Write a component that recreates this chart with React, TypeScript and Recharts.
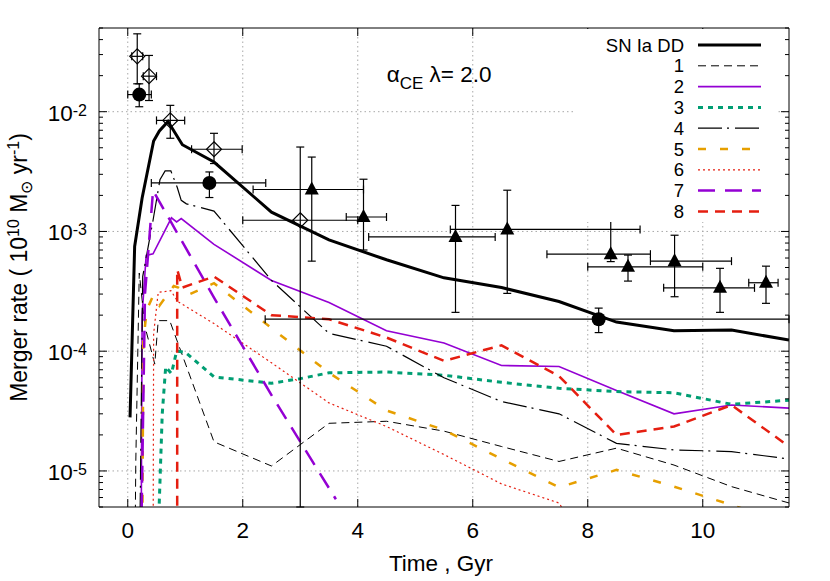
import React from 'react';
import {
  CartesianGrid,
  ComposedChart,
  ErrorBar,
  Legend,
  Line,
  Scatter,
  XAxis,
  YAxis,
} from 'recharts';

const W = 830;
const H = 581;
const FONT = '"Liberation Sans", Arial, Helvetica, sans-serif';

// axes
const X_DOMAIN = [-0.5, 11.5];
const X_TICKS = [0, 2, 4, 6, 8, 10];
const Y_DOMAIN = [5e-6, 5e-2];
const Y_MAJOR = [1e-5, 1e-4, 1e-3, 1e-2];
const Y_MINOR = [
  5e-6, 6e-6, 7e-6, 8e-6, 9e-6,
  2e-5, 3e-5, 4e-5, 5e-5, 6e-5, 7e-5, 8e-5, 9e-5,
  2e-4, 3e-4, 4e-4, 5e-4, 6e-4, 7e-4, 8e-4, 9e-4,
  2e-3, 3e-3, 4e-3, 5e-3, 6e-3, 7e-3, 8e-3, 9e-3,
  2e-2, 3e-2, 4e-2, 5e-2,
];
const Y_TICKS = [...Y_MINOR, ...Y_MAJOR].sort((a, b) => a - b);

// model curves (time in Gyr, rate in 1e10 Msun/yr); values below 5e-6 run off the axis
const T_DD = [0.04, 0.12, 0.25, 0.45, 0.55, 0.7, 0.95, 1.5, 2.5, 3.5, 4.5, 5.5, 6.5, 7.5, 8.5, 9.5, 10.5, 11.5];
const V_DD = [2.8e-5, 7.5e-4, 1.9e-3, 5.7e-3, 6.9e-3, 8.3e-3, 5.3e-3, 3.8e-3, 1.45e-3, 8.5e-4, 5.8e-4, 4.1e-4, 3.4e-4, 2.6e-4, 1.75e-4, 1.48e-4, 1.5e-4, 1.24e-4];

const T_1 = [0.12, 0.14, 0.2, 0.3, 0.47, 0.53, 0.73, 1.5, 2.5, 3.5, 4.5, 5.5, 6.5, 7.5, 8.5, 9.5, 10.5, 11.5];
const V_1 = [1e-6, 1.2e-5, 4.5e-4, 1.6e-4, 7.8e-5, 1.8e-4, 1.8e-4, 1.75e-5, 1.1e-5, 2.5e-5, 2.6e-5, 2.15e-5, 1.6e-5, 1.2e-5, 1.55e-5, 1.12e-5, 7.4e-6, 5.4e-6];

const T_2 = [0.23, 0.25, 0.32, 0.44, 0.76, 0.85, 0.93, 1.5, 2.5, 3.5, 4.5, 5.5, 6.5, 7.5, 8.5, 9.5, 10.5, 11.5];
const V_2 = [1e-6, 2e-4, 6.3e-4, 6.5e-4, 1.3e-3, 1.2e-3, 1.28e-3, 7.8e-4, 3.9e-4, 2.55e-4, 1.48e-4, 1.17e-4, 7.6e-5, 7.45e-5, 4.7e-5, 3.0e-5, 3.55e-5, 3.35e-5];

const T_3 = [0.53, 0.6, 0.66, 0.76, 0.85, 1.0, 1.5, 2.5, 3.0, 3.5, 4.5, 5.5, 6.5, 7.5, 8.5, 9.5, 10.5, 11.5];
const V_3 = [3e-6, 3e-5, 7.4e-5, 6.5e-5, 1.0e-4, 9.8e-5, 6.1e-5, 5.4e-5, 5.9e-5, 6.6e-5, 6.7e-5, 6.3e-5, 5.5e-5, 4.9e-5, 4.6e-5, 4.5e-5, 3.6e-5, 3.9e-5];

const T_4 = [0.2, 0.26, 0.44, 0.56, 0.65, 0.75, 0.86, 0.93, 1.02, 1.5, 2.5, 3.5, 4.5, 5.5, 6.5, 7.5, 8.5, 9.5, 10.5, 11.5];
const V_4 = [1e-6, 4.2e-4, 1.24e-3, 2.7e-3, 3.2e-3, 3.2e-3, 2.34e-3, 1.82e-3, 1.7e-3, 1.48e-3, 3.9e-4, 1.41e-4, 1.1e-4, 6.0e-5, 3.8e-5, 3.0e-5, 1.7e-5, 1.5e-5, 1.45e-5, 1.26e-5];

const T_5 = [0.25, 0.27, 0.33, 0.44, 0.55, 0.8, 0.88, 1.05, 1.5, 2.5, 3.5, 4.5, 5.5, 6.5, 7.5, 8.5, 9.5, 10.5, 11.5];
const V_5 = [1e-6, 1.2e-4, 2.2e-4, 2.9e-4, 2.4e-4, 3.5e-4, 3.4e-4, 2.95e-4, 3.7e-4, 1.56e-4, 6.6e-5, 3.2e-5, 2.2e-5, 1.26e-5, 7.3e-6, 1.02e-5, 7.4e-6, 5.2e-6, 3.6e-6];

const T_6 = [0.44, 0.45, 0.53, 0.75, 0.87, 1.5, 2.5, 3.5, 4.5, 5.5, 6.5, 7.5, 8.5];
const V_6 = [1e-6, 1.4e-4, 3.1e-4, 3.2e-4, 2.6e-4, 1.7e-4, 8.0e-5, 3.7e-5, 2.35e-5, 1.37e-5, 7.8e-6, 5.4e-6, 1e-6];

const T_7 = [0.22, 0.3, 0.44, 1.5, 2.5, 3.62];
const V_7 = [1e-6, 3e-4, 2.2e-3, 2.8e-4, 4.3e-5, 5.8e-6];

const T_8 = [0.86, 0.86, 0.95, 1.5, 2.5, 3.5, 4.5, 5.5, 6.5, 7.5, 8.5, 9.5, 10.5, 11.5];
const V_8 = [1e-6, 4.8e-4, 3.4e-4, 4.2e-4, 2.0e-4, 1.85e-4, 1.3e-4, 8.3e-5, 1.12e-4, 6.2e-5, 2.0e-5, 2.35e-5, 3.55e-5, 1.6e-5];

// observed rates with error ranges (lo/hi are the bar ends)
const DIA_T = [0.165, 0.37, 0.74, 1.5, 3.0];
const DIA_T_LO = [0.07, 0.27, 0.5, 1.11, 2.0];
const DIA_T_HI = [0.26, 0.5, 0.99, 1.99, 4.0];
const DIA_V = [2.9e-2, 1.98e-2, 8.46e-3, 4.86e-3, 1.24e-3];
const DIA_V_LO = [1.71e-2, 1.24e-2, 6.0e-3, 3.69e-3, 5e-6];
const DIA_V_HI = [4.47e-2, 2.95e-2, 1.13e-2, 6.6e-3, 5.07e-3];

const CIR_T = [0.2, 1.42, 8.19];
const CIR_T_LO = [0.0, 0.41, 2.39];
const CIR_T_HI = [0.41, 2.4, 11.5];
const CIR_V = [1.39e-2, 2.54e-3, 1.85e-4];
const CIR_V_LO = [1.1e-2, 1.92e-3, 1.43e-4];
const CIR_V_HI = [1.71e-2, 3.14e-3, 2.29e-4];

const TRI_T = [3.2, 4.1, 5.7, 6.6, 8.4, 8.7, 9.51, 10.3, 11.1];
const TRI_T_LO = [2.18, 3.8, 4.19, 5.61, 7.29, 8.0, 9.09, 9.32, 10.8];
const TRI_T_HI = [4.1, 4.5, 6.39, 8.91, 9.09, 10.0, 10.5, 10.9, 11.31];
const TRI_V = [2.24e-3, 1.32e-3, 9.0e-4, 1.04e-3, 6.46e-4, 5.07e-4, 5.65e-4, 3.38e-4, 3.73e-4];
const TRI_V_LO = [5.65e-4, 7.0e-4, 2.11e-4, 3.04e-4, 5.6e-4, 3.85e-4, 2.85e-4, 2.11e-4, 2.51e-4];
const TRI_V_HI = [4.18e-3, 2.73e-3, 1.65e-3, 2.21e-3, 1.51e-3, 6.35e-4, 9.3e-4, 4.92e-4, 5.13e-4];

const rows = (t: number[], v: number[]) => t.map((x, i) => ({ t: x, v: v[i] }));

const points = (
  t: number[], tLo: number[], tHi: number[],
  v: number[], vLo: number[], vHi: number[],
) =>
  t.map((x, i) => ({
    t: x,
    v: v[i],
    ex: [x - tLo[i], tHi[i] - x],
    ey: [v[i] - vLo[i], vHi[i] - v[i]],
  }));

type Series = { name: string; data: { t: number; v: number }[]; color: string; width: number; dash?: string };

const SERIES: Series[] = [
  { name: 'SN Ia DD', data: rows(T_DD, V_DD), color: '#000000', width: 3 },
  { name: '1', data: rows(T_1, V_1), color: '#000000', width: 1, dash: '8 5' },
  { name: '2', data: rows(T_2, V_2), color: '#9400d3', width: 1.6 },
  { name: '3', data: rows(T_3, V_3), color: '#009e73', width: 3, dash: '5 5' },
  { name: '4', data: rows(T_4, V_4), color: '#000000', width: 1.2, dash: '24 5 2 6' },
  { name: '5', data: rows(T_5, V_5), color: '#e69f00', width: 2.5, dash: '8 14' },
  { name: '6', data: rows(T_6, V_6), color: '#e51e10', width: 1.2, dash: '2 3' },
  { name: '7', data: rows(T_7, V_7), color: '#9400d3', width: 2.5, dash: '17 10' },
  { name: '8', data: rows(T_8, V_8), color: '#e51e10', width: 2.5, dash: '10 7' },
];

const DIAMONDS = points(DIA_T, DIA_T_LO, DIA_T_HI, DIA_V, DIA_V_LO, DIA_V_HI);
const CIRCLES = points(CIR_T, CIR_T_LO, CIR_T_HI, CIR_V, CIR_V_LO, CIR_V_HI);
const TRIANGLES = points(TRI_T, TRI_T_LO, TRI_T_HI, TRI_V, TRI_V_LO, TRI_V_HI);

const isMajor = (v: number) => Y_MAJOR.includes(v);

function LeftTick({ x, y, payload }: any) {
  const v = payload.value;
  const major = isMajor(v);
  return (
    <g>
      <line x1={x} x2={x + (major ? 8 : 4)} y1={y} y2={y} stroke="#000" />
      {major && (
        <text x={x - 12} y={y + 9} textAnchor="end" fontSize={22.5} fontFamily={FONT} fill="#000">
          10
          <tspan dy={-5} fontSize={16}>{String(Math.round(Math.log10(v)))}</tspan>
        </text>
      )}
    </g>
  );
}

function RightTick({ x, y, payload }: any) {
  const major = isMajor(payload.value);
  return <line x1={x} x2={x - (major ? 8 : 4)} y1={y} y2={y} stroke="#000" />;
}

function BottomTick({ x, y, payload }: any) {
  return (
    <g>
      <line x1={x} x2={x} y1={y} y2={y - 8} stroke="#000" />
      <text x={x} y={y + 31} textAnchor="middle" fontSize={22.5} fontFamily={FONT} fill="#000">
        {payload.value}
      </text>
    </g>
  );
}

function TopTick({ x, y }: any) {
  return <line x1={x} x2={x} y1={y} y2={y + 8} stroke="#000" />;
}

function XTitle({ viewBox }: any) {
  return (
    <text x={viewBox.x + viewBox.width / 2 - 3} y={viewBox.y + 64} textAnchor="middle" fontSize={22.5} fontFamily={FONT} fill="#000">
      Time , Gyr
    </text>
  );
}

function YTitle({ viewBox }: any) {
  const cx = 27;
  const cy = viewBox.y + viewBox.height / 2;
  return (
    <text x={cx} y={cy} transform={`rotate(-90 ${cx} ${cy})`} textAnchor="middle" fontSize={23} fontFamily={FONT} fill="#000">
      Merger rate ( 10
      <tspan dy={-8} fontSize={16}>10</tspan>
      <tspan dy={8}> M</tspan>
      <tspan dy={5} fontSize={16}>⊙</tspan>
      <tspan dy={-5}> yr</tspan>
      <tspan dy={-8} fontSize={16}>-1</tspan>
      <tspan dy={8}>)</tspan>
    </text>
  );
}

const KEY_LEFT = 573;
const KEY_TOP = 29;
const KEY_ROW = 20.8;

function KeyBox() {
  return (
    <svg width={203} height={200} style={{ display: 'block', overflow: 'visible' }}>
      {SERIES.map((s, i) => {
        const cy = 16 + i * KEY_ROW;
        return (
          <g key={s.name}>
            <text x={684 - KEY_LEFT} y={cy + 6.5} textAnchor="end" fontSize={18.5} fontFamily={FONT} fill="#000">
              {s.name}
            </text>
            <line
              x1={698 - KEY_LEFT}
              x2={761 - KEY_LEFT}
              y1={cy}
              y2={cy}
              stroke={s.color}
              strokeWidth={s.width}
              strokeDasharray={s.dash}
            />
          </g>
        );
      })}
    </svg>
  );
}

const diamond = ({ cx, cy }: any) => (
  <path d={`M${cx},${cy - 7.5}L${cx + 7.5},${cy}L${cx},${cy + 7.5}L${cx - 7.5},${cy}Z`} fill="none" stroke="#000" strokeWidth={1.2} />
);
const circle = ({ cx, cy }: any) => <circle cx={cx} cy={cy} r={7} fill="#000" />;
const triangle = ({ cx, cy }: any) => (
  <path d={`M${cx},${cy - 8}L${cx + 7},${cy + 5}L${cx - 7},${cy + 5}Z`} fill="#000" />
);

function bars() {
  return [
    <ErrorBar key="x" dataKey="ex" direction="x" width={4} stroke="#000" strokeWidth={1.2} isAnimationActive={false} />,
    <ErrorBar key="y" dataKey="ey" direction="y" width={4} stroke="#000" strokeWidth={1.2} isAnimationActive={false} />,
  ];
}

export default function App() {
  const axisLine = { stroke: '#000', strokeWidth: 1 };
  return (
    <div style={{ position: 'absolute', left: 0, top: 0, width: W, height: H, background: '#fff', fontFamily: FONT }}>
      <ComposedChart width={W} height={H} margin={{ top: 0, right: 0, bottom: 0, left: 0 }}>
        <CartesianGrid
          horizontalValues={Y_MAJOR}
          verticalValues={X_TICKS}
          stroke="#a8a8a8"
          strokeDasharray="1.5 3"
        />
        <XAxis
          dataKey="t"
          type="number"
          domain={X_DOMAIN}
          ticks={X_TICKS}
          interval={0}
          allowDataOverflow
          height={74}
          tickSize={0}
          tickMargin={0}
          tickLine={false}
          axisLine={axisLine}
          tick={<BottomTick />}
          label={<XTitle />}
        />
        <XAxis
          xAxisId="top"
          orientation="top"
          dataKey="t"
          type="number"
          domain={X_DOMAIN}
          ticks={X_TICKS}
          interval={0}
          allowDataOverflow
          height={28}
          tickSize={0}
          tickMargin={0}
          tickLine={false}
          axisLine={axisLine}
          tick={<TopTick />}
        />
        <YAxis
          dataKey="v"
          type="number"
          scale="log"
          domain={Y_DOMAIN}
          ticks={Y_TICKS}
          interval={0}
          allowDataOverflow
          width={99}
          tickSize={0}
          tickMargin={0}
          tickLine={false}
          axisLine={axisLine}
          tick={<LeftTick />}
          label={<YTitle />}
        />
        <YAxis
          yAxisId="right"
          orientation="right"
          dataKey="v"
          type="number"
          scale="log"
          domain={Y_DOMAIN}
          ticks={Y_TICKS}
          interval={0}
          allowDataOverflow
          width={41}
          tickSize={0}
          tickMargin={0}
          tickLine={false}
          axisLine={axisLine}
          tick={<RightTick />}
        />
        {SERIES.map((s) => (
          <Line
            key={s.name}
            data={s.data}
            dataKey="v"
            name={s.name}
            type="linear"
            stroke={s.color}
            strokeWidth={s.width}
            strokeDasharray={s.dash}
            dot={false}
            activeDot={false}
            isAnimationActive={false}
          />
        ))}
        <Scatter data={DIAMONDS} dataKey="v" shape={diamond} isAnimationActive={false}>
          {bars()}
        </Scatter>
        <Scatter data={CIRCLES} dataKey="v" shape={circle} isAnimationActive={false}>
          {bars()}
        </Scatter>
        <Scatter data={TRIANGLES} dataKey="v" shape={triangle} isAnimationActive={false}>
          {bars()}
        </Scatter>
        <Legend
          layout="vertical"
          align="center"
          verticalAlign="middle"
          content={() => <KeyBox />}
          wrapperStyle={{ left: KEY_LEFT, top: KEY_TOP, width: 203, height: 193, background: '#fff', overflow: 'visible' }}
        />
      </ComposedChart>
      <svg width={W} height={H} style={{ position: 'absolute', left: 0, top: 0, pointerEvents: 'none' }}>
        <text x={386.7} y={81.7} fontSize={22.5} fontFamily={FONT} fill="#000">
          α
          <tspan dy={7.6} fontSize={17}>CE</tspan>
          <tspan dy={-7.6}> λ= 2.0</tspan>
        </text>
      </svg>
    </div>
  );
}
